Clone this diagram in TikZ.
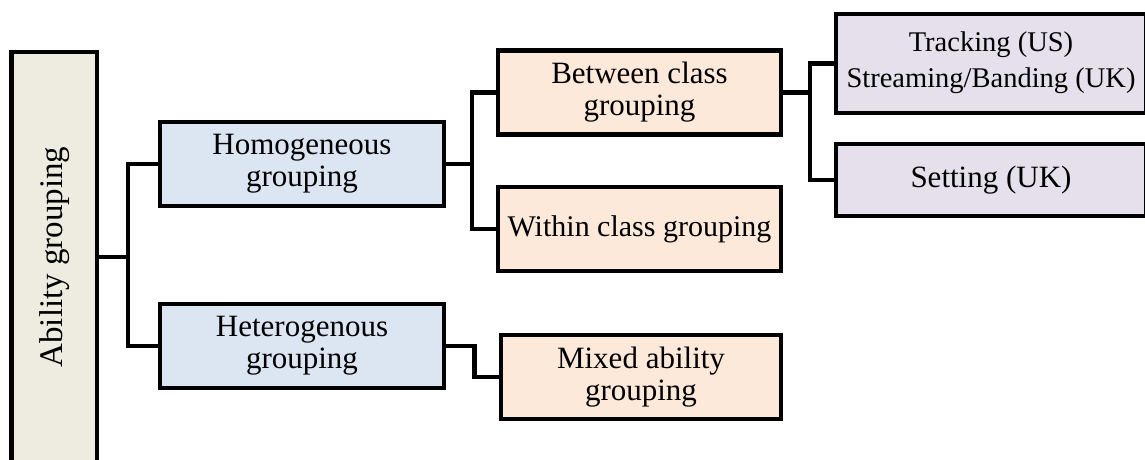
\documentclass[tikz,border=0pt]{standalone}
\usepackage{fontspec}
\setmainfont{Liberation Serif}
\definecolor{beigefill}{HTML}{EEECE1}
\definecolor{bluefill}{HTML}{DCE6F2}
\definecolor{orangefill}{HTML}{FDE9D9}
\definecolor{purplefill}{HTML}{E5E0EC}
\begin{document}
\begin{tikzpicture}[x=1pt,y=-1pt,
  box/.style={draw=black,line width=4.5pt,rectangle,inner sep=0pt,align=center,
    font=\fontsize{31}{32}\selectfont,line join=miter},
  rootbox/.style={box,fill=beigefill,minimum width=85.5pt,minimum height=412pt},
  lvlone/.style={box,fill=bluefill,minimum width=284pt,minimum height=84pt},
  lvltwo/.style={box,fill=orangefill,minimum width=283pt,minimum height=84pt},
  lvlthree/.style={box,fill=purplefill,minimum width=310pt},
  conn/.style={draw=black,line width=4.5pt,line join=miter}]
\useasboundingbox (0,0) rectangle (1145,459);
\node[rootbox] (ab) at (54,258) {};
\node[rotate=90,font=\fontsize{33}{34}\selectfont] (abt) at (55,257) {Ability grouping};
\node[lvlone] (hom) at (302,164) {Homogeneous\\grouping};
\node[lvlone] (het) at (302,346) {Heterogenous\\grouping};
\node[lvltwo] (bet) at (639.5,92.5) {Between class\\grouping};
\node[lvltwo,font=\fontsize{30}{32}\selectfont] (wit) at (639.5,229) {Within class grouping};
\node[lvltwo,minimum width=280pt] (mix) at (641,377) {Mixed ability\\grouping};
\node[lvlthree,minimum height=99pt] (trk) at (991,63.5) {};
\node[font=\fontsize{28.5}{36}\selectfont,align=center,inner sep=0pt] (trkt) at (991,63) {Tracking (US)\\Streaming/Banding (UK)};
\node[lvlthree,minimum height=72pt] (set) at (991,180) {Setting (UK)};
\coordinate (j1) at (128,257);
\coordinate (j2) at (472,164);
\coordinate (j3) at (810,92.5);
\path[conn] (ab.east |- j1) -- (j1);
\path[conn] (hom.west) -| (j1) |- (het.west);
\path[conn] (hom.east) -- (j2);
\path[conn] (bet.west) -| (j2) |- (wit.west);
\path[conn] (bet.east) -- (j3);
\path[conn] (trk.west) -| (j3) |- (set.west);
\path[conn] (het.east) -- ++(28,0) |- (mix.west);
\end{tikzpicture}
\end{document}
